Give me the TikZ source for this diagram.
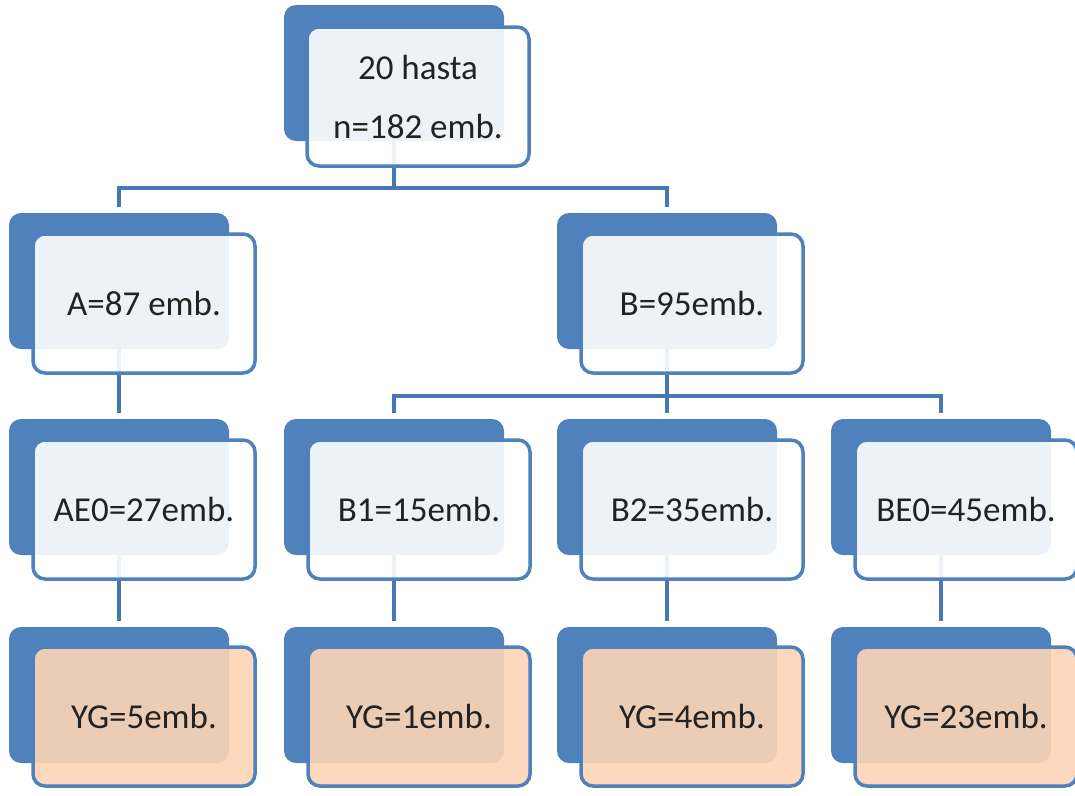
\documentclass[tikz,border=0pt]{standalone}
\usepackage{fontspec}
\setmainfont{Carlito}
\usetikzlibrary{calc}

\definecolor{backblue}{HTML}{4F81BD}
\definecolor{linkblue}{HTML}{4676B4}
\definecolor{peach}{HTML}{FCD5B5}
\definecolor{txt}{HTML}{222222}

\tikzset{
  backbox/.style={rectangle, rounded corners=12pt, fill=backblue, draw=none,
    minimum width=220pt, minimum height=136pt, outer sep=0pt, inner sep=0pt, anchor=north west},
  frontbox/.style={rectangle, rounded corners=12pt, draw=backblue, line width=3.5pt,
    fill=white, fill opacity=0.9, text opacity=1, text=txt,
    minimum width=222pt, minimum height=139pt, outer sep=0pt, inner sep=0pt,
    anchor=north west, align=center, font=\fontsize{35}{59}\selectfont},
  leafbox/.style={frontbox, fill=peach},
  conn/.style={draw=linkblue, line width=3.5pt},
}

\begin{document}
\begin{tikzpicture}[x=1pt, y=-1pt]
  \fill[white] (0,0) rectangle (1075,795);
  \useasboundingbox (0,0) rectangle (1075,795);

  % back plates
  \node[backbox] (topB) at (284,5) {};
  \node[backbox] (AB)   at (9,213) {};
  \node[backbox] (BB)   at (557,213) {};
  \node[backbox] (AE0B) at (9,419) {};
  \node[backbox] (B1B)  at (284,419) {};
  \node[backbox] (B2B)  at (557,419) {};
  \node[backbox] (BE0B) at (831,419) {};
  \node[backbox] (Y1B)  at (9,627) {};
  \node[backbox] (Y2B)  at (284,627) {};
  \node[backbox] (Y3B)  at (557,627) {};
  \node[backbox] (Y4B)  at (831,627) {};

  % connectors
  \draw[conn, shorten >=6pt] (topB.south) -- ++(0,47) coordinate (bus1) -| (AB.north);
  \draw[conn, shorten >=6pt] (bus1) -| (BB.north);
  \draw[conn, shorten >=6pt] (AB.south) -- (AE0B.north);
  \draw[conn, shorten >=6pt] (BB.south) -- ++(0,47) coordinate (bus2) -| (B1B.north);
  \draw[conn, shorten >=6pt] (bus2) -- (B2B.north);
  \draw[conn, shorten >=6pt] (bus2) -| (BE0B.north);
  \draw[conn, shorten >=6pt] (AE0B.south) -- (Y1B.north);
  \draw[conn, shorten >=6pt] (B1B.south) -- (Y2B.north);
  \draw[conn, shorten >=6pt] (B2B.south) -- (Y3B.north);
  \draw[conn, shorten >=6pt] (BE0B.south) -- (Y4B.north);

  % front cards
  \node[frontbox] (top) at ($(topB.north west)+(23,22)$) {20 hasta\\n=182 emb.};
  \node[frontbox] (A)   at ($(AB.north west)+(24,21)$) {A=87 emb.};
  \node[frontbox] (B)   at ($(BB.north west)+(24,21)$) {B=95emb.};
  \node[frontbox] (AE0) at ($(AE0B.north west)+(24,21)$) {AE0=27emb.};
  \node[frontbox] (B1)  at ($(B1B.north west)+(24,21)$) {B1=15emb.};
  \node[frontbox] (B2)  at ($(B2B.north west)+(24,21)$) {B2=35emb.};
  \node[frontbox] (BE0) at ($(BE0B.north west)+(24,21)$) {BE0=45emb.};
  \node[leafbox]  (Y1)  at ($(Y1B.north west)+(24,20)$) {YG=5emb.};
  \node[leafbox]  (Y2)  at ($(Y2B.north west)+(24,20)$) {YG=1emb.};
  \node[leafbox]  (Y3)  at ($(Y3B.north west)+(24,20)$) {YG=4emb.};
  \node[leafbox]  (Y4)  at ($(Y4B.north west)+(24,20)$) {YG=23emb.};
\end{tikzpicture}
\end{document}
